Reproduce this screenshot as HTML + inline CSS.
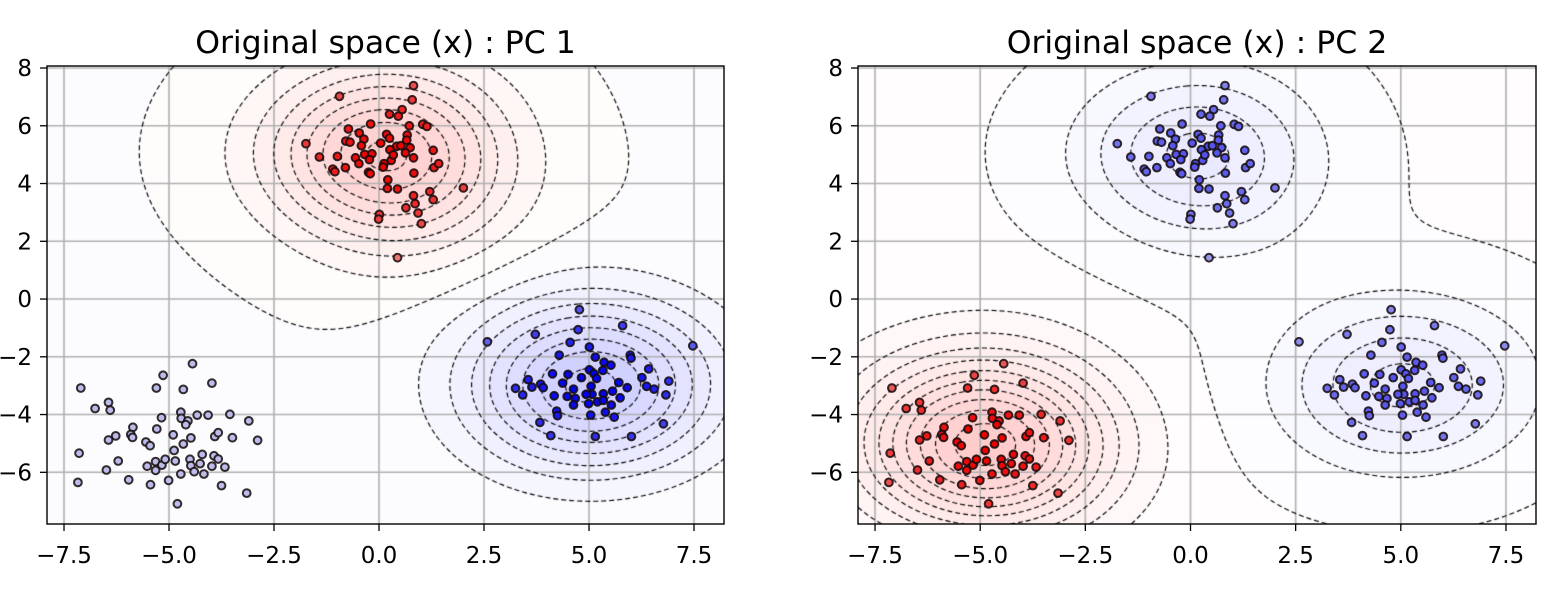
<!DOCTYPE html>
<html><head><meta charset="utf-8"><style>
body{margin:0;background:#fff;}
#wrap{position:relative;width:1558px;height:600px;overflow:hidden;}
canvas,svg{position:absolute;left:0;top:0;}
text{font-family:"DejaVu Sans","Liberation Sans",sans-serif;fill:#000;}
</style></head><body>
<div id="wrap">
<canvas id="cv" width="1558" height="600"></canvas>
<svg id="sv" width="1558" height="600" xmlns="http://www.w3.org/2000/svg"></svg>
</div>
<script>
// ---- data (cluster points, in data coordinates) ----
const redX=[-0.94,0.82,0.79,0.55,0.25,0.46,-0.20,-0.73,-0.47,0.18,0.72,1.04,1.14,-1.74,-0.79,-0.69,-0.36,-0.42,0.04,0.25,0.67,0.66,0.42,0.52,0.26,0.74,1.29,-1.42,-0.99,-0.56,-0.34,-0.17,-0.23,-0.48,-0.80,-1.10,-1.05,-0.25,-0.21,0.12,0.10,0.29,0.34,0.63,0.82,1.31,1.42,0.83,0.21,0.20,0.44,0.82,1.21,1.29,0.86,0.64,0.93,0.01,-0.01,1.01,2.01,0.44];
const redY=[7.02,7.39,6.90,6.56,6.40,6.33,6.06,5.89,5.75,5.70,6.00,6.05,5.98,5.38,5.47,5.43,5.54,5.31,5.40,5.57,5.68,5.50,5.29,5.31,5.17,5.24,5.15,4.92,4.94,4.89,5.01,5.03,4.83,4.69,4.55,4.50,4.41,4.39,4.34,4.69,4.57,4.80,4.99,5.06,4.89,4.55,4.69,4.36,4.13,3.83,3.81,3.58,3.72,3.44,3.30,3.16,2.98,2.93,2.77,2.61,3.85,1.43];
const blueX=[4.77,2.58,3.72,4.74,5.80,7.47,4.55,5.01,4.29,5.15,5.98,6.00,5.36,5.52,6.42,5.01,5.33,5.12,5.18,4.13,4.50,4.82,3.55,3.64,3.85,3.91,3.25,3.42,4.37,4.63,5.05,5.71,6.26,6.37,6.55,6.90,6.83,5.91,5.56,5.34,5.07,4.93,4.17,4.48,4.67,4.63,4.99,5.20,5.34,5.74,5.53,4.23,4.25,5.04,5.39,5.60,3.83,6.77,4.09,5.15,6.01];
const blueY=[-0.37,-1.48,-1.22,-1.06,-0.92,-1.62,-1.50,-1.66,-1.94,-2.01,-1.94,-2.05,-2.19,-2.29,-2.42,-2.45,-2.47,-2.59,-2.75,-2.59,-2.61,-2.72,-2.79,-3.05,-2.95,-3.07,-3.09,-3.32,-2.91,-3.12,-3.02,-2.89,-2.72,-3.02,-3.12,-2.84,-3.32,-3.07,-3.19,-3.28,-3.30,-3.30,-3.35,-3.37,-3.44,-3.67,-3.62,-3.56,-3.51,-3.42,-3.67,-3.88,-4.04,-4.02,-3.92,-4.09,-4.27,-4.32,-4.73,-4.76,-4.76];
const greyX=[-7.10,-4.44,-5.14,-5.30,-4.66,-3.98,-6.44,-6.76,-6.40,-4.72,-5.18,-4.71,-4.55,-4.60,-4.33,-4.07,-3.55,-3.10,-5.86,-5.29,-5.91,-5.87,-6.27,-6.44,-4.90,-4.48,-4.66,-3.91,-3.83,-3.49,-2.89,-5.55,-5.45,-7.14,-6.21,-6.49,-4.88,-5.32,-5.52,-5.32,-5.17,-5.09,-4.85,-4.50,-4.21,-3.93,-3.83,-4.48,-4.26,-3.98,-3.67,-4.40,-4.17,-4.72,-5.01,-5.96,-5.44,-7.17,-3.75,-3.15,-4.80];
const greyY=[-3.08,-2.24,-2.64,-3.08,-3.13,-2.91,-3.58,-3.79,-3.85,-3.92,-4.11,-4.13,-4.22,-4.35,-4.02,-4.02,-3.99,-4.22,-4.44,-4.50,-4.69,-4.79,-4.74,-4.88,-4.70,-4.81,-5.02,-4.76,-4.63,-4.80,-4.89,-4.95,-5.08,-5.34,-5.61,-5.92,-5.24,-5.63,-5.79,-5.93,-5.75,-5.55,-5.61,-5.55,-5.38,-5.43,-5.54,-5.77,-5.70,-5.79,-5.82,-5.98,-6.06,-6.06,-6.28,-6.26,-6.43,-6.35,-6.46,-6.72,-7.09];
// component weights per cluster [red, blue, grey]
const pc1Weights=[1,-1,0];
const pc2Weights=[-0.4,-0.4,1];
const pcOffsets=[-0.008,0.012];
const pcLevelSteps=[0.12,0.095];
const titles=["Original space (x) : PC 1","Original space (x) : PC 2"];
const xTicks=[-7.5,-5.0,-2.5,0.0,2.5,5.0,7.5];
const yTicks=[-6,-4,-2,0,2,4,6,8];
const xLim=[-7.905,8.214], yLim=[-7.79,8.07];
const gammaK=0.17;

const clusters=[[redX,redY],[blueX,blueY],[greyX,greyY]];
const panels=[{x0:47,x1:724,w:pc1Weights},{x0:858,x1:1536,w:pc2Weights}];
const Y0=66,Y1=524;
const NS="http://www.w3.org/2000/svg";
const svg=document.getElementById('sv');
const ctx=document.getElementById('cv').getContext('2d');
function mk(tag,attrs,parent){const e=document.createElementNS(NS,tag);for(const k in attrs)e.setAttribute(k,attrs[k]);(parent||svg).appendChild(e);return e;}
function fmt(v,d){const s=Math.abs(v).toFixed(d);return (v<0?"\u2212":"")+s;}
function field(x,y,w){let f=0;for(let c=0;c<3;c++){if(!w[c])continue;const X=clusters[c][0],Yv=clusters[c][1];let s=0;for(let i=0;i<X.length;i++){const dx=x-X[i],dy=y-Yv[i];s+=Math.exp(-gammaK*(dx*dx+dy*dy));}f+=w[c]*s/X.length;}return f;}
function bwr(t){t=Math.max(-1,Math.min(1,t));if(t>=0)return[255,255*(1-t),255*(1-t)];return[255*(1+t),255*(1+t),255];}

panels.forEach((P,pi)=>{
  const sx=x=>P.x0+(x-xLim[0])/(xLim[1]-xLim[0])*(P.x1-P.x0);
  const sy=y=>Y1-(y-yLim[0])/(yLim[1]-yLim[0])*(Y1-Y0);
  const ix=px=>xLim[0]+(px-P.x0)/(P.x1-P.x0)*(xLim[1]-xLim[0]);
  const iy=py=>yLim[0]+(Y1-py)/(Y1-Y0)*(yLim[1]-yLim[0]);
  const g=pi===0?'pc1':'pc2';
  const G=mk('g',{});
  
  
  const st=2, nx=Math.ceil((P.x1-P.x0)/st)+1, ny=Math.ceil((Y1-Y0)/st)+1;
  const F=new Float64Array(nx*ny);let mx=0;
  for(let j=0;j<ny;j++)for(let i=0;i<nx;i++){const v=field(ix(P.x0+i*st),iy(Y0+j*st),P.w);F[j*nx+i]=v;if(Math.abs(v)>mx)mx=Math.abs(v);}
  const off=pcOffsets[pi], step=pcLevelSteps[pi];
  for(let k=0;k<F.length;k++)F[k]=F[k]/mx+off;
  for(let j=0;j<ny-1;j++)for(let i=0;i<nx-1;i++){
    const v=(F[j*nx+i]+F[j*nx+i+1]+F[(j+1)*nx+i]+F[(j+1)*nx+i+1])/4;
    const t=(Math.floor(v/step)+0.5)*step;const c=bwr(t);const a=0.2;
    ctx.fillStyle=`rgb(${Math.round(255-a*(255-c[0]))},${Math.round(255-a*(255-c[1]))},${Math.round(255-a*(255-c[2]))})`;
    ctx.fillRect(P.x0+i*st,Y0+j*st,st,st);
  }
  ctx.strokeStyle='#b0b0b0';ctx.lineWidth=1.6;ctx.setLineDash([]);
  xTicks.forEach(v=>{ctx.beginPath();ctx.moveTo(sx(v),Y0);ctx.lineTo(sx(v),Y1);ctx.stroke();});
  yTicks.forEach(v=>{ctx.beginPath();ctx.moveTo(P.x0,sy(v));ctx.lineTo(P.x1,sy(v));ctx.stroke();});
  ctx.strokeStyle='#000';ctx.lineWidth=1.15;ctx.setLineDash([5,3]);
  ctx.save();ctx.beginPath();ctx.rect(P.x0,Y0,P.x1-P.x0,Y1-Y0);ctx.clip();
  for(let k=-12;k<=12;k++){
    const L=k*step;
    const segs=[];const adj=new Map();
    const pt={};
    function ekey(type,i,j){const key=type+i+','+j;if(!pt[key]){let a,b;if(type==='h'){a=F[j*nx+i];b=F[j*nx+i+1];const t=(L-a)/(b-a);pt[key]=[P.x0+(i+t)*st,Y0+j*st];}else{a=F[j*nx+i];b=F[(j+1)*nx+i];const t=(L-a)/(b-a);pt[key]=[P.x0+i*st,Y0+(j+t)*st];}}return key;}
    function add(a,b){const id=segs.length;segs.push([a,b]);[a,b].forEach(q=>{if(!adj.has(q))adj.set(q,[]);adj.get(q).push(id);});}
    for(let j=0;j<ny-1;j++)for(let i=0;i<nx-1;i++){
      const a=F[j*nx+i]>L,b=F[j*nx+i+1]>L,c=F[(j+1)*nx+i+1]>L,d=F[(j+1)*nx+i]>L;
      const e=[];
      if(a!==b)e.push(ekey('h',i,j));
      if(b!==c)e.push(ekey('v',i+1,j));
      if(c!==d)e.push(ekey('h',i,j+1));
      if(d!==a)e.push(ekey('v',i,j));
      if(e.length===2)add(e[0],e[1]);else if(e.length===4){add(e[0],e[1]);add(e[2],e[3]);}
    }
    const used=new Uint8Array(segs.length);
    for(let s=0;s<segs.length;s++){
      if(used[s])continue;used[s]=1;
      let line=[segs[s][0],segs[s][1]];
      for(let dir=0;dir<2;dir++){
        let cur=line[line.length-1];
        while(true){const ids=adj.get(cur)||[];let nxt=-1;for(const id of ids)if(!used[id]){nxt=id;break;}if(nxt<0)break;used[nxt]=1;const sg=segs[nxt];cur=sg[0]===cur?sg[1]:sg[0];line.push(cur);}
        line.reverse();
      }
      ctx.beginPath();line.forEach((q,n)=>{const p=pt[q];n?ctx.lineTo(p[0],p[1]):ctx.moveTo(p[0],p[1]);});ctx.stroke();
    }
  }
  ctx.restore();
  const pv=[];let pm=0;
  clusters.forEach((cl)=>{cl[0].forEach((x,i)=>{const v=field(x,cl[1][i],P.w)/mx+off;pv.push(v);if(Math.abs(v)>pm)pm=Math.abs(v);});});
  let n=0;
  clusters.forEach((cl,ci)=>{cl[0].forEach((x,i)=>{
    let t=pv[n++]/pm;t=Math.sign(t)*(0.15+0.85*Math.pow(Math.abs(t),0.6));
    const c=bwr(t).map(q=>Math.round(q*0.92));
    const dot=mk('circle',{cx:sx(x).toFixed(1),cy:sy(cl[1][i]).toFixed(1),r:3.9,fill:`rgb(${c.join(',')})`,stroke:'rgba(20,10,10,0.85)','stroke-width':2},G);
    
    
  });});
  const sp=mk('rect',{x:P.x0,y:Y0,width:P.x1-P.x0,height:Y1-Y0,fill:'none',stroke:'#000','stroke-width':1.4},G);
  
  
  xTicks.forEach(v=>{mk('line',{x1:sx(v),x2:sx(v),y1:Y1,y2:Y1+7,stroke:'#000','stroke-width':1.3},G);
    const t=mk('text',{x:sx(v),y:Y1+39,'text-anchor':'middle','font-size':'23'},G);t.textContent=fmt(v,1);
    
    });
  yTicks.forEach(v=>{mk('line',{x1:P.x0-7,x2:P.x0,y1:sy(v),y2:sy(v),stroke:'#000','stroke-width':1.3},G);
    const t=mk('text',{x:P.x0-15,y:sy(v)+8,'text-anchor':'end','font-size':'23'},G);t.textContent=fmt(v,0);
    
    });
  const tt=mk('text',{x:(P.x0+P.x1)/2,y:53,'text-anchor':'middle','font-size':'31.5'},G);tt.textContent=titles[pi];
  
  
});
</script>
</body></html>
